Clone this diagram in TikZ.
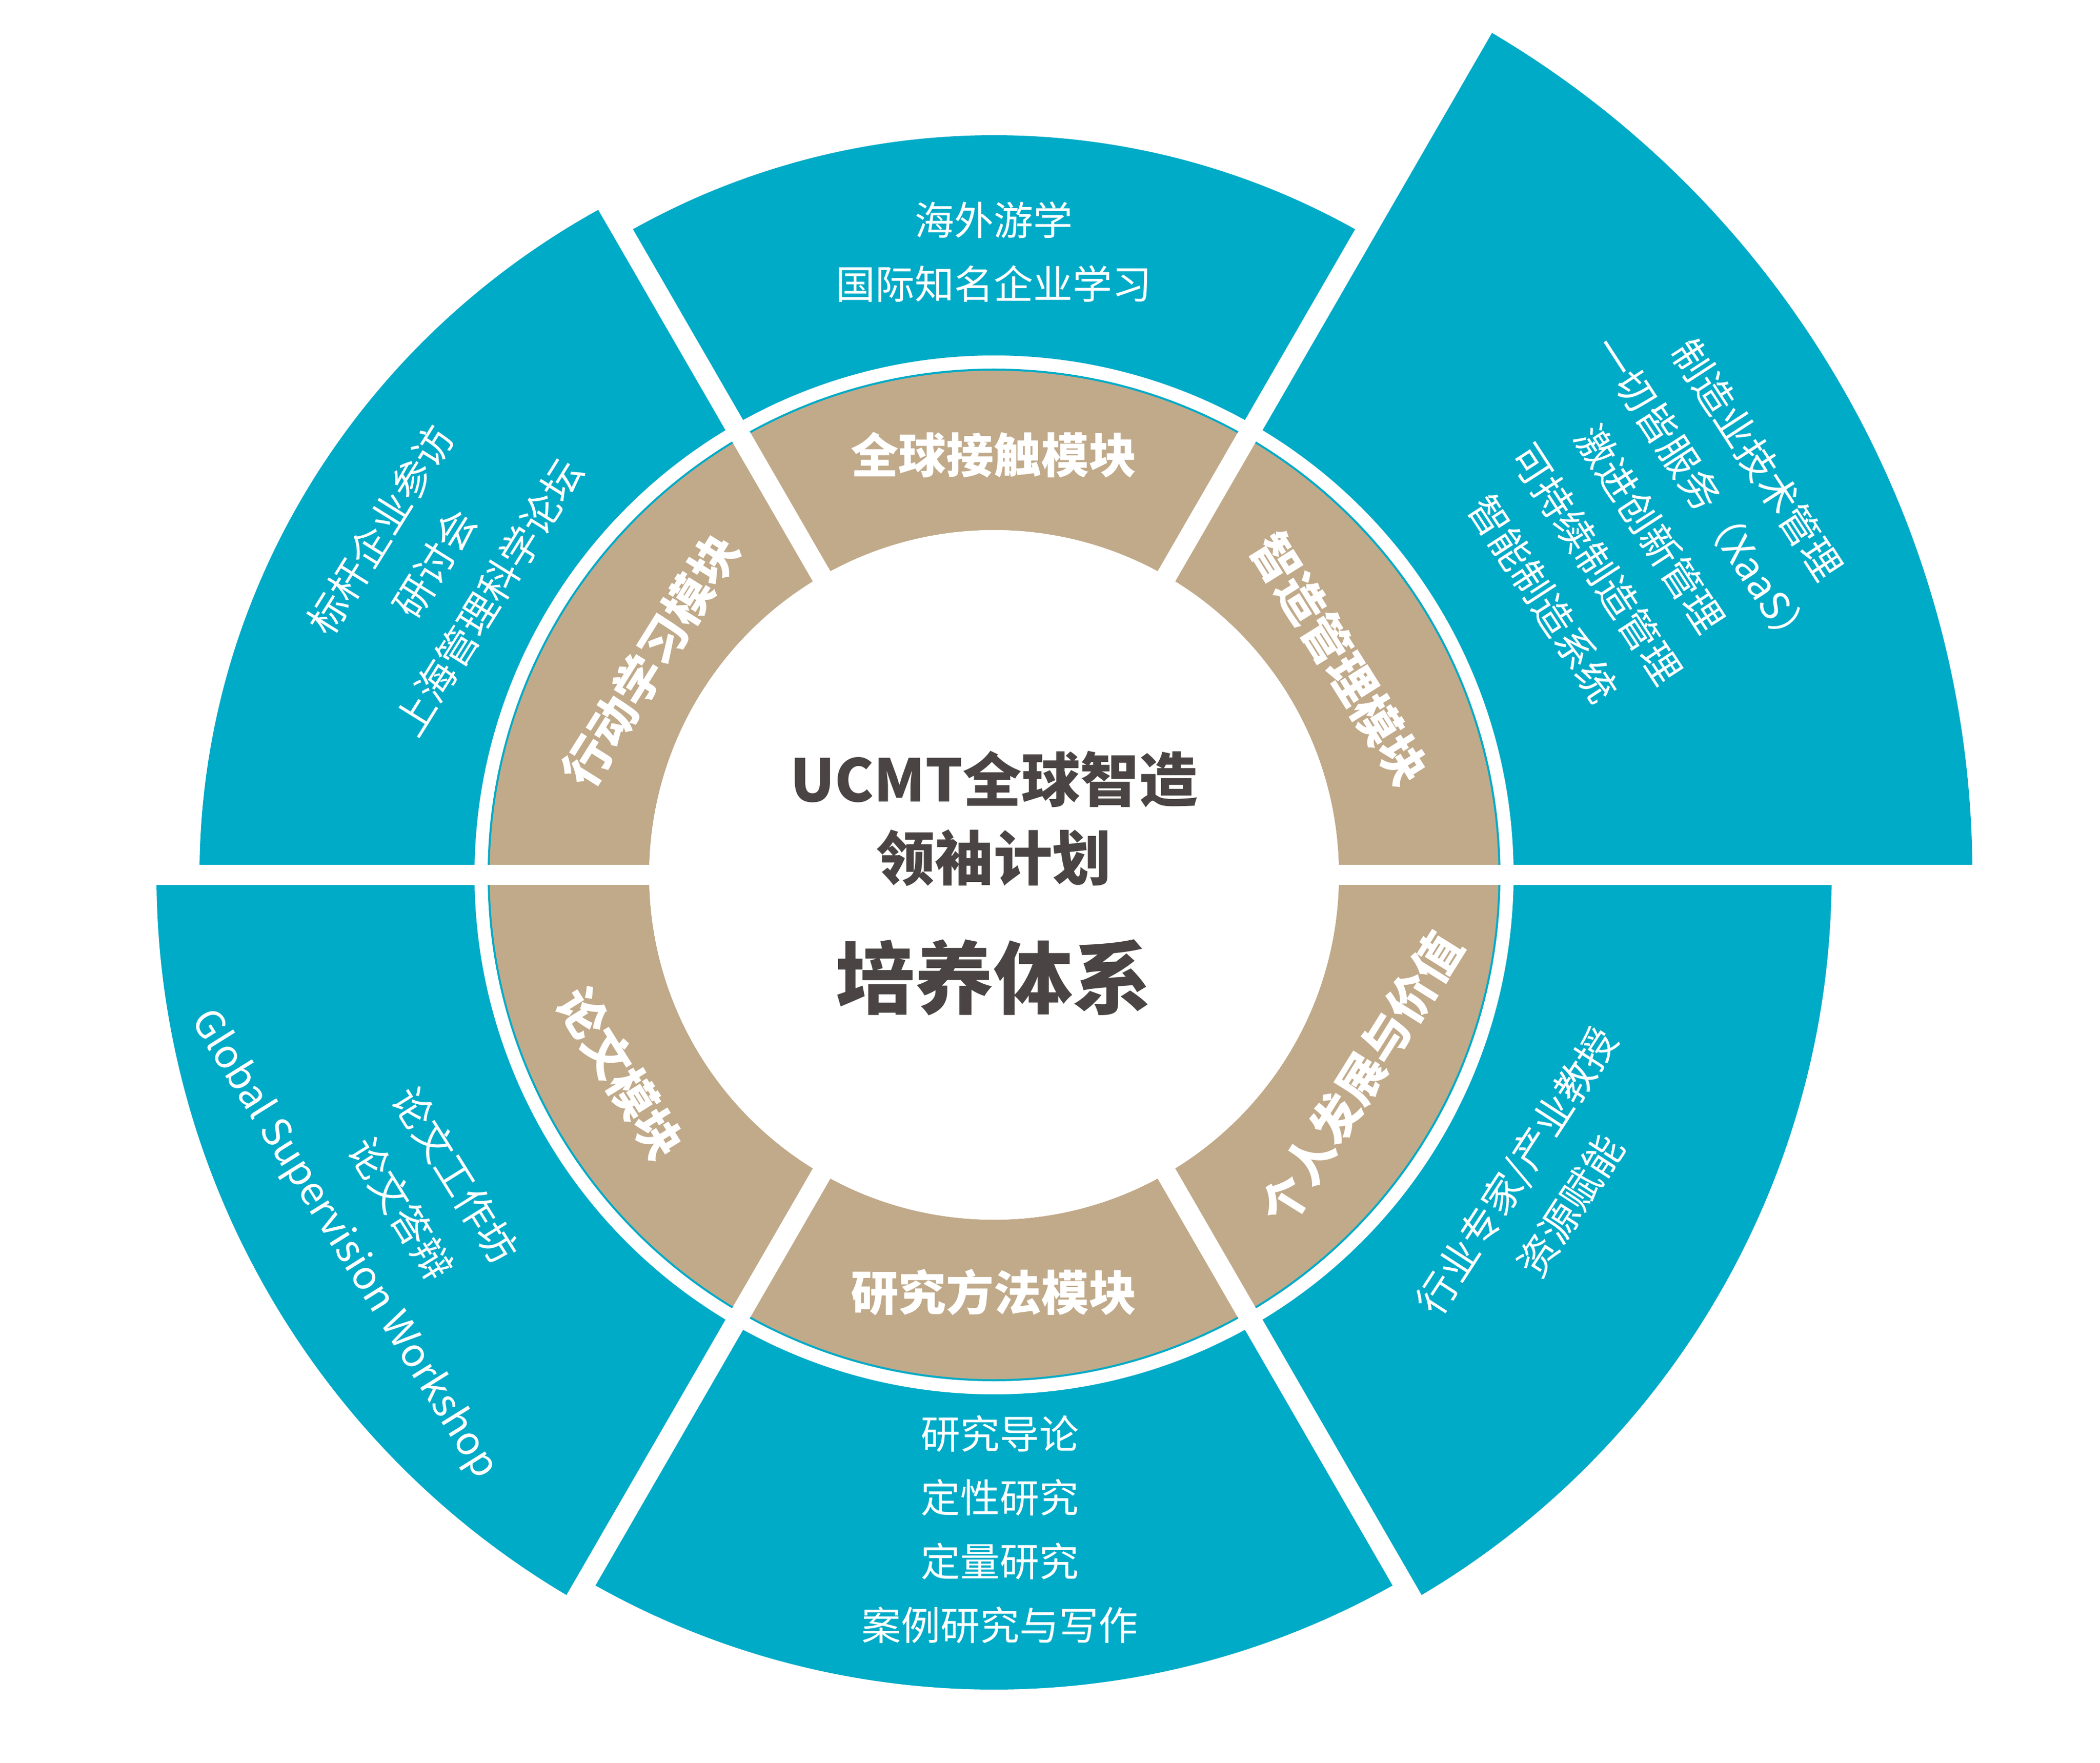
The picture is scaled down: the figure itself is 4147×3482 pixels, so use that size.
\documentclass[tikz,border=0pt]{standalone}
\usepackage{fontspec}
\setmainfont{Noto Sans CJK SC}
\definecolor{tealc}{HTML}{00ABC7}
\definecolor{beige}{HTML}{C1AA8A}
\definecolor{darktext}{HTML}{4A4544}
\tikzset{
  segfill/.style={fill=tealc},
  outertext/.style={text=white, font=\fontsize{19.5}{31.5}\selectfont, align=center, inner sep=0pt},
  ringlabel/.style={text=white, font=\bfseries\fontsize{23.5}{28}\selectfont, inner sep=0pt},
  gapline/.style={white, line width=10pt},
  titletext/.style={text=darktext, font=\bfseries\fontsize{29}{34}\selectfont, inner sep=0pt},
  bigtitle/.style={text=darktext, font=\bfseries\fontsize{39}{44}\selectfont, inner sep=0pt},
}
\begin{document}
\begin{tikzpicture}[x=0.25pt, y=0.25pt]
\useasboundingbox[fill=white] (-1963,-1754) rectangle (2184,1728);
% outer teal sectors
\fill[segfill] (0:1026) arc[start angle=0, end angle=60, radius=1026] -- (60:1932) arc[start angle=60, end angle=0, radius=1932] -- cycle;
\fill[segfill] (60:1026) arc[start angle=60, end angle=120, radius=1026] -- (120:1461) arc[start angle=120, end angle=60, radius=1461] -- cycle;
\fill[segfill] (120:1026) arc[start angle=120, end angle=180, radius=1026] -- (180:1569) arc[start angle=180, end angle=119.14, x radius=1569, y radius=1515] -- cycle;
\fill[segfill] (180:1026) arc[start angle=180, end angle=240, radius=1026] -- (240:1654) arc[start angle=240, end angle=180, radius=1654] -- cycle;
\fill[segfill] (240:1026) arc[start angle=240, end angle=300, radius=1026] -- (300:1609) arc[start angle=300, end angle=240, radius=1609] -- cycle;
\fill[segfill] (300:1026) arc[start angle=300, end angle=360, radius=1026] -- (360:1654) arc[start angle=360, end angle=300, radius=1654] -- cycle;
% beige ring
\fill[beige, even odd rule] (0,0) circle[radius=997] (0,0) circle[radius=681];
\draw[tealc, line width=1pt] (0,0) circle[radius=998];
% gaps
\coordinate (g0a) at (0:2000);   \coordinate (g0b) at (180:2000);
\coordinate (g1a) at (60:2000);  \coordinate (g1b) at (240:2000);
\coordinate (g2a) at (120:2000); \coordinate (g2b) at (300:2000);
\draw[gapline] (g0a) -- (g0b);
\draw[gapline] (g1a) -- (g1b);
\draw[gapline] (g2a) -- (g2b);
\fill[white] (0,0) circle[radius=681];
% centre title
\node[titletext] (t1) at (0,189) {UCMT全球智造};
\node[titletext] (t2) at (0,33) {领袖计划};
\node[bigtitle] (t3) at (0,-203) {培养体系};
% ring labels
\node[ringlabel] (m1) at (90:829) {全球接触模块};
\node[ringlabel, rotate=-58] (m2) at (32:805) {智造管理模块};
\node[ringlabel, rotate=58] (m3) at (148:800) {行动学习模块};
\node[ringlabel, rotate=-58] (m4) at (208:835) {论文模块};
\node[ringlabel] (m5) at (270:824) {研究方法模块};
\node[ringlabel, rotate=58] (m6) at (331:828) {个人发展与价值};
% outer texts
\node[outertext] (o1) at (0,1230) {海外游学\\国际知名企业学习};
\node[outertext, rotate=-57] (o2) at (27.8:1465) {制造业技术管理\\一切皆服务（XaaS）\\激进创新管理\\可持续制造管理\\智能制造系统};
\node[outertext, rotate=58] (o3) at (150.9:1265) {标杆企业参访\\研讨会\\上海管理科学论坛};
\node[outertext, rotate=-58] (o4) at (209.4:1349) {论文工作坊\\论文答辩\\Global Supervision Workshop};
\node[outertext] (o5) at (12,-1293) {研究导论\\定性研究\\定量研究\\案例研究与写作};
\node[outertext, rotate=57] (o6) at (-29.7:1249) {行业专家/产业教授\\资源赋能};
\end{tikzpicture}
\end{document}
